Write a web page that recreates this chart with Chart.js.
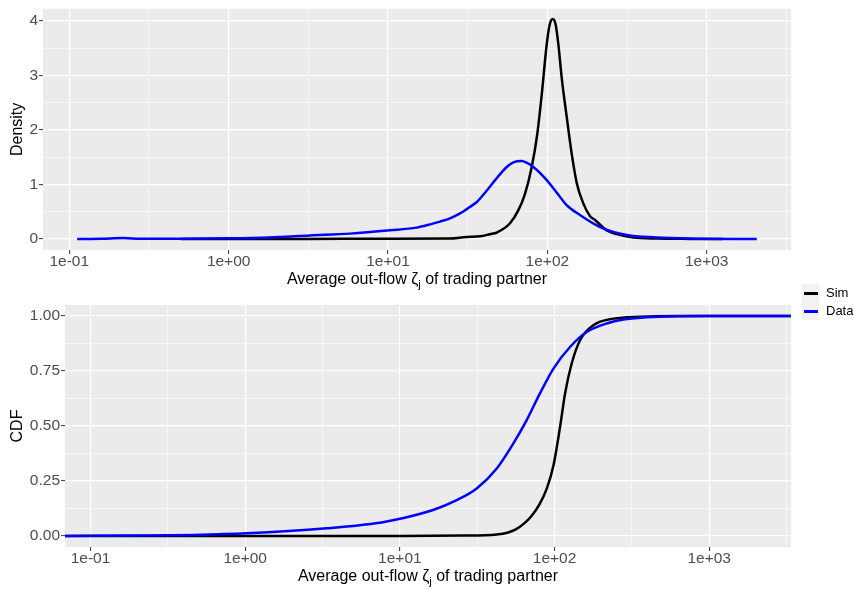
<!DOCTYPE html>
<html>
<head>
<meta charset="utf-8">
<script src="https://cdn.jsdelivr.net/npm/chart.js@4.4.1/dist/chart.umd.min.js"></script>
<style>
  body { margin: 0; background: #fff; font-family: "Liberation Sans", Arial, sans-serif; }
  #page { position: relative; width: 855px; height: 590px; }
  .plot { position: absolute; left: 0; }
  .xtitle { position: absolute; text-align: center; font-size: 16px; line-height: 19px; color: #000; white-space: nowrap; }
  .xtitle .sub { font-size: 11.5px; position: relative; top: 4px; }
  #legend { position: absolute; left: 802px; top: 284px; }
  .key { position: absolute; left: 0; width: 17px; height: 18px; background: #F2F2F2; }
  .key i { position: absolute; left: 2px; top: 8px; width: 14px; height: 2.5px; }
  .lab { position: absolute; left: 24px; font-size: 13px; line-height: 18px; color: #000; white-space: nowrap; }
</style>
</head>
<body>
<div id="page">
  <canvas id="densityChart" class="plot" width="800" height="295" style="top:0"></canvas>
  <canvas id="cdfChart" class="plot" width="800" height="295" style="top:295px"></canvas>
  <div class="xtitle" style="left:43px; width:748px; top:269px">Average out-flow ζ<span class="sub">j</span> of trading partner</div>
  <div class="xtitle" style="left:65px; width:726px; top:566px">Average out-flow ζ<span class="sub">j</span> of trading partner</div>
  <div id="legend">
    <div class="key" style="top:0"><i style="background:#000"></i></div>
    <div class="lab" style="top:0">Sim</div>
    <div class="key" style="top:18px"><i style="background:#0000FF"></i></div>
    <div class="lab" style="top:18px">Data</div>
  </div>
</div>
<script>
// Kernel density of the average out-flow (x on a log axis)
var simDensityX = [0.5, 1, 3.16, 10, 24.5, 31.2, 37.8, 43.6, 48.1, 58.3, 65.8, 72.4, 79.8, 86.5, 92.3, 99.1, 103.5,
                   108.1, 112.7, 117.2, 123.0, 132.4, 142.2, 153.1, 168.3, 185.4, 199.1, 236.0, 272.9, 346.7, 486.4, 794, 1259];
var simDensityY = [0, 0.002, 0.003, 0.005, 0.01, 0.04, 0.05, 0.09, 0.12, 0.29, 0.53, 0.83, 1.32, 1.93, 2.66, 3.57, 3.93,
                   4.03, 3.93, 3.57, 2.96, 2.23, 1.56, 1.02, 0.65, 0.42, 0.35, 0.16, 0.09, 0.03, 0.01, 0.003, 0];

var dataDensityX = [0.112, 0.158, 0.219, 0.282, 0.5, 1, 1.78, 3.24, 5.77, 10.3, 15.1, 18.4, 21.2, 24.5, 28.3, 32.7,
                    36.1, 41.7, 47.0, 55.6, 61.7, 69.0, 74.1, 81.7, 99.1, 114.6, 132.4, 160.3, 214.3, 314.8, 486.4, 787, 2061];
var dataDensityY = [0, 0.005, 0.02, 0.005, 0.006, 0.013, 0.03, 0.067, 0.10, 0.16, 0.21, 0.27, 0.32, 0.38, 0.47, 0.59,
                    0.68, 0.89, 1.08, 1.32, 1.41, 1.43, 1.40, 1.32, 1.08, 0.85, 0.62, 0.44, 0.22, 0.073, 0.03, 0.01, 0];

// Empirical CDFs, running out to the ends of the axis
var simCdfX = [0.0684, 10, 25.7, 42.3, 50.1, 56.2, 63.1, 70.8, 79.4, 89.1, 98.4, 108.6, 117.0, 129.1, 146.2, 178.2,
               240.4, 357.3, 631, 3380];
var simCdfY = [0, 0.0005, 0.002, 0.007, 0.016, 0.030, 0.055, 0.090, 0.140, 0.215, 0.320, 0.496, 0.648, 0.784, 0.890, 0.958,
               0.988, 0.997, 1, 1];

var dataCdfX = [0.0684, 0.2, 0.461, 1.02, 3.37, 7.43, 10, 16.4, 23.3, 31.4, 42.3, 54.2, 66.1, 80.5, 98.4, 125.9,
                161.4, 217.3, 278.6, 398, 631, 1000, 3380];
var dataCdfY = [0, 0.002, 0.005, 0.012, 0.035, 0.060, 0.078, 0.118, 0.163, 0.216, 0.307, 0.421, 0.527, 0.648, 0.761, 0.859,
                0.927, 0.966, 0.984, 0.994, 0.999, 1, 1];

// Axis breaks: major ones get labels, minor ones only a thin grid line
var xBreaks = [0.1, 0.3162, 1, 3.162, 10, 31.62, 100, 316.2, 1000, 3162];
var densityBreaks = [0, 0.5, 1, 1.5, 2, 2.5, 3, 3.5, 4];
var cdfBreaks = [0, 0.125, 0.25, 0.375, 0.5, 0.625, 0.75, 0.875, 1];

var seriesNames = ['Sim', 'Data'];
var seriesColours = ['#000000', '#0000FF'];

var xMin = 0.0684, xMax = 3380;
var tickFont = { family: 'Liberation Sans', size: 15.5, lineHeight: 1 };
var titleFont = { family: 'Liberation Sans', size: 16 };

function pairs(xs, ys) {
    var out = [];
    for (var i = 0; i < xs.length; i++) out.push({ x: xs[i], y: ys[i] });
    return out;
}

function isDecade(v) {
    var l = Math.log10(v);
    return Math.abs(l - Math.round(l)) < 1e-6;
}

// R style scientific labels: 1e-01, 1e+00 ...
function sciLabel(v) {
    var e = Math.round(Math.log10(v));
    var a = Math.abs(e);
    return '1e' + (e < 0 ? '-' : '+') + (a < 10 ? '0' : '') + a;
}

// grey panel behind the plotting area
var panelBackground = {
    id: 'panelBackground',
    beforeDraw: function(chart) {
        var a = chart.chartArea, ctx = chart.ctx;
        ctx.save();
        ctx.fillStyle = '#EBEBEB';
        ctx.fillRect(a.left, a.top, a.right - a.left, a.bottom - a.top);
        ctx.restore();
    }
};

function gridFor(isMajor) {
    return {
        color: '#FFFFFF',
        lineWidth: function(c) { return c.tick && isMajor(c.tick.value) ? 1.2 : 0.6; },
        drawTicks: true,
        tickLength: 4,
        tickWidth: 1,
        tickColor: function(c) { return c.tick && isMajor(c.tick.value) ? '#333333' : 'rgba(0,0,0,0)'; }
    };
}

function makeChart(canvasId, datasets, yOpts) {
    return new Chart(document.getElementById(canvasId), {
        type: 'line',
        data: {
            datasets: datasets.map(function(d, i) {
                return {
                    label: seriesNames[i],
                    data: d,
                    borderColor: seriesColours[i],
                    borderWidth: 2.5,
                    pointRadius: 0,
                    cubicInterpolationMode: 'monotone',
                    fill: false,
                    order: seriesNames.length - i
                };
            })
        },
        options: {
            responsive: false,
            animation: false,
            layout: { padding: { top: yOpts.padTop, right: 9, left: 0, bottom: 0 } },
            plugins: { legend: { display: false }, tooltip: { enabled: false } },
            scales: {
                x: {
                    type: 'logarithmic',
                    bounds: 'data',
                    min: xMin,
                    max: xMax,
                    afterBuildTicks: function(scale) {
                        scale.ticks = xBreaks.map(function(v) { return { value: v }; });
                    },
                    afterFit: function(scale) { scale.height = yOpts.xHeight; },
                    grid: gridFor(isDecade),
                    border: { display: false },
                    ticks: {
                        autoSkip: false,
                        maxRotation: 0,
                        padding: 0,
                        color: '#4D4D4D',
                        font: tickFont,
                        callback: function(v) { return isDecade(v) ? sciLabel(v) : ''; }
                    }
                },
                y: {
                    type: 'linear',
                    bounds: 'data',
                    min: yOpts.min,
                    max: yOpts.max,
                    afterBuildTicks: function(scale) {
                        scale.ticks = yOpts.breaks.map(function(v) { return { value: v }; });
                    },
                    afterFit: function(scale) { scale.width = yOpts.width; },
                    grid: gridFor(yOpts.isMajor),
                    border: { display: false },
                    title: { display: true, text: yOpts.title, color: '#000', font: titleFont, padding: { top: yOpts.titlePad, bottom: 0 } },
                    ticks: {
                        autoSkip: false,
                        padding: 1,
                        color: '#4D4D4D',
                        font: tickFont,
                        callback: function(v) { return yOpts.isMajor(v) ? yOpts.format(v) : ''; }
                    }
                }
            }
        },
        plugins: [panelBackground]
    });
}

makeChart('densityChart',
    [pairs(simDensityX, simDensityY), pairs(dataDensityX, dataDensityY)],
    {
        min: -0.2, max: 4.22, breaks: densityBreaks, title: 'Density',
        width: 43, xHeight: 45, padTop: 8, titlePad: 7.7,
        isMajor: function(v) { return Math.abs(v - Math.round(v)) < 1e-9; },
        format: function(v) { return String(v); }
    });

makeChart('cdfChart',
    [pairs(simCdfX, simCdfY), pairs(dataCdfX, dataCdfY)],
    {
        min: -0.05, max: 1.05, breaks: cdfBreaks, title: 'CDF',
        width: 65, xHeight: 43, padTop: 10, titlePad: 8.4,
        isMajor: function(v) { return Math.abs(v * 4 - Math.round(v * 4)) < 1e-9; },
        format: function(v) { return v.toFixed(2); }
    });
</script>
</body>
</html>
